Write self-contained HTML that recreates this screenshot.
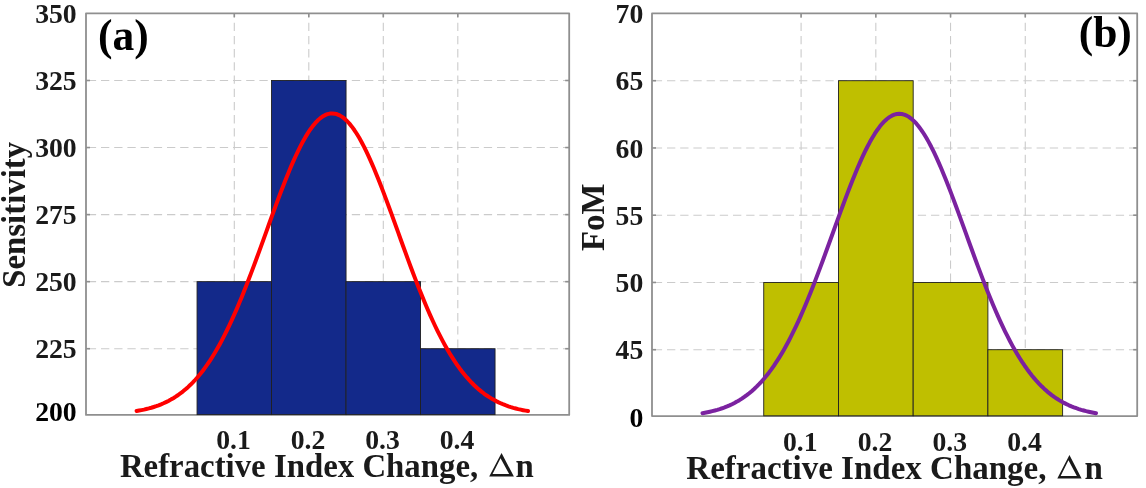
<!DOCTYPE html>
<html><head><meta charset="utf-8"><style>
html,body{margin:0;padding:0;background:#fff;}
svg{display:block;will-change:transform;}
text{font-family:"Liberation Serif",serif;font-weight:bold;fill:#1a1a1a;}
.k{fill:#000;}
.t{font-size:27.7px;}
.l{font-size:32.85px;}
.p{font-size:43.5px;fill:#000;}
</style></head><body>
<svg width="1146" height="488" viewBox="0 0 1146 488">
<rect width="1146" height="488" fill="#fff"/>
<line x1="234.30" y1="13.30" x2="234.30" y2="414.90" stroke="#cbcbcb" stroke-width="1.1" stroke-dasharray="8.3 4.9" stroke-dashoffset="-9.4"/>
<line x1="308.80" y1="13.30" x2="308.80" y2="414.90" stroke="#cbcbcb" stroke-width="1.1" stroke-dasharray="8.3 4.9" stroke-dashoffset="-9.4"/>
<line x1="383.30" y1="13.30" x2="383.30" y2="414.90" stroke="#cbcbcb" stroke-width="1.1" stroke-dasharray="8.3 4.9" stroke-dashoffset="-9.4"/>
<line x1="457.80" y1="13.30" x2="457.80" y2="414.90" stroke="#cbcbcb" stroke-width="1.1" stroke-dasharray="8.3 4.9" stroke-dashoffset="-9.4"/>
<line x1="86.00" y1="348.70" x2="569.20" y2="348.70" stroke="#cbcbcb" stroke-width="1.1" stroke-dasharray="8.3 4.9" stroke-dashoffset="-1.8"/>
<line x1="86.00" y1="281.65" x2="569.20" y2="281.65" stroke="#cbcbcb" stroke-width="1.1" stroke-dasharray="8.3 4.9" stroke-dashoffset="-1.8"/>
<line x1="86.00" y1="214.60" x2="569.20" y2="214.60" stroke="#cbcbcb" stroke-width="1.1" stroke-dasharray="8.3 4.9" stroke-dashoffset="-1.8"/>
<line x1="86.00" y1="147.55" x2="569.20" y2="147.55" stroke="#cbcbcb" stroke-width="1.1" stroke-dasharray="8.3 4.9" stroke-dashoffset="-1.8"/>
<line x1="86.00" y1="80.50" x2="569.20" y2="80.50" stroke="#cbcbcb" stroke-width="1.1" stroke-dasharray="8.3 4.9" stroke-dashoffset="-1.8"/>
<line x1="234.30" y1="414.90" x2="234.30" y2="410.90" stroke="#8f8f8f" stroke-width="1.6"/>
<line x1="234.30" y1="13.30" x2="234.30" y2="17.30" stroke="#8f8f8f" stroke-width="1.6"/>
<line x1="308.80" y1="414.90" x2="308.80" y2="410.90" stroke="#8f8f8f" stroke-width="1.6"/>
<line x1="308.80" y1="13.30" x2="308.80" y2="17.30" stroke="#8f8f8f" stroke-width="1.6"/>
<line x1="383.30" y1="414.90" x2="383.30" y2="410.90" stroke="#8f8f8f" stroke-width="1.6"/>
<line x1="383.30" y1="13.30" x2="383.30" y2="17.30" stroke="#8f8f8f" stroke-width="1.6"/>
<line x1="457.80" y1="414.90" x2="457.80" y2="410.90" stroke="#8f8f8f" stroke-width="1.6"/>
<line x1="457.80" y1="13.30" x2="457.80" y2="17.30" stroke="#8f8f8f" stroke-width="1.6"/>
<line x1="86.00" y1="348.70" x2="90.00" y2="348.70" stroke="#8f8f8f" stroke-width="1.6"/>
<line x1="569.20" y1="348.70" x2="565.20" y2="348.70" stroke="#8f8f8f" stroke-width="1.6"/>
<line x1="86.00" y1="281.65" x2="90.00" y2="281.65" stroke="#8f8f8f" stroke-width="1.6"/>
<line x1="569.20" y1="281.65" x2="565.20" y2="281.65" stroke="#8f8f8f" stroke-width="1.6"/>
<line x1="86.00" y1="214.60" x2="90.00" y2="214.60" stroke="#8f8f8f" stroke-width="1.6"/>
<line x1="569.20" y1="214.60" x2="565.20" y2="214.60" stroke="#8f8f8f" stroke-width="1.6"/>
<line x1="86.00" y1="147.55" x2="90.00" y2="147.55" stroke="#8f8f8f" stroke-width="1.6"/>
<line x1="569.20" y1="147.55" x2="565.20" y2="147.55" stroke="#8f8f8f" stroke-width="1.6"/>
<line x1="86.00" y1="80.50" x2="90.00" y2="80.50" stroke="#8f8f8f" stroke-width="1.6"/>
<line x1="569.20" y1="80.50" x2="565.20" y2="80.50" stroke="#8f8f8f" stroke-width="1.6"/>
<rect x="86.00" y="13.30" width="483.20" height="401.60" fill="none" stroke="#8f8f8f" stroke-width="1.8" stroke-linejoin="round"/>
<rect x="197.05" y="281.65" width="74.50" height="132.95" fill="#13298a" stroke="#202020" stroke-width="0.9"/>
<rect x="271.55" y="80.50" width="74.50" height="334.10" fill="#13298a" stroke="#202020" stroke-width="0.9"/>
<rect x="346.05" y="281.65" width="74.50" height="132.95" fill="#13298a" stroke="#202020" stroke-width="0.9"/>
<rect x="420.55" y="348.70" width="74.50" height="65.90" fill="#13298a" stroke="#202020" stroke-width="0.9"/>
<polyline points="136.60,411.00 139.05,410.57 141.49,410.10 143.94,409.59 146.38,409.02 148.83,408.40 151.28,407.72 153.72,406.97 156.17,406.16 158.62,405.28 161.06,404.32 163.51,403.28 165.95,402.15 168.40,400.92 170.85,399.60 173.29,398.18 175.74,396.65 178.19,395.00 180.63,393.23 183.08,391.33 185.52,389.30 187.97,387.14 190.42,384.83 192.86,382.37 195.31,379.75 197.76,376.98 200.20,374.04 202.65,370.94 205.09,367.66 207.54,364.21 209.99,360.57 212.43,356.76 214.88,352.76 217.33,348.58 219.77,344.21 222.22,339.66 224.66,334.92 227.11,330.01 229.56,324.91 232.00,319.64 234.45,314.19 236.90,308.58 239.34,302.81 241.79,296.89 244.23,290.83 246.68,284.63 249.13,278.31 251.57,271.89 254.02,265.36 256.47,258.76 258.91,252.08 261.36,245.35 263.81,238.59 266.25,231.81 268.70,225.03 271.14,218.27 273.59,211.55 276.04,204.88 278.48,198.30 280.93,191.82 283.38,185.46 285.82,179.24 288.27,173.19 290.71,167.33 293.16,161.66 295.61,156.23 298.05,151.05 300.50,146.12 302.94,141.49 305.39,137.16 307.84,133.14 310.28,129.47 312.73,126.14 315.18,123.17 317.62,120.58 320.07,118.38 322.51,116.57 324.96,115.16 327.41,114.16 329.85,113.57 332.30,113.40 334.75,113.64 337.19,114.30 339.64,115.37 342.08,116.84 344.53,118.71 346.98,120.98 349.42,123.63 351.87,126.66 354.32,130.04 356.76,133.78 359.21,137.84 361.65,142.23 364.10,146.91 366.55,151.88 368.99,157.10 371.44,162.58 373.89,168.27 376.33,174.17 378.78,180.25 381.23,186.49 383.67,192.87 386.12,199.37 388.56,205.97 391.01,212.64 393.46,219.37 395.90,226.14 398.35,232.92 400.79,239.70 403.24,246.46 405.69,253.18 408.13,259.84 410.58,266.44 413.03,272.95 415.47,279.36 417.92,285.65 420.37,291.83 422.81,297.87 425.26,303.76 427.70,309.51 430.15,315.09 432.60,320.51 435.04,325.75 437.49,330.82 439.93,335.71 442.38,340.42 444.83,344.94 447.27,349.28 449.72,353.43 452.17,357.40 454.61,361.18 457.06,364.78 459.50,368.21 461.95,371.46 464.40,374.54 466.84,377.45 469.29,380.19 471.74,382.78 474.18,385.22 476.63,387.50 479.08,389.65 481.52,391.65 483.97,393.53 486.41,395.28 488.86,396.91 491.31,398.42 493.75,399.83 496.20,401.13 498.64,402.34 501.09,403.45 503.54,404.48 505.98,405.43 508.43,406.30 510.88,407.10 513.32,407.83 515.77,408.50 518.21,409.12 520.66,409.67 523.11,410.18 525.55,410.65 528.00,411.07" fill="none" stroke="#ff0000" stroke-width="4.0" stroke-linejoin="round" stroke-linecap="round"/>
<text x="76.70" y="421.20" text-anchor="end" class="t k">200</text>
<text x="76.70" y="358.30" text-anchor="end" class="t">225</text>
<text x="76.70" y="291.25" text-anchor="end" class="t">250</text>
<text x="76.70" y="224.20" text-anchor="end" class="t">275</text>
<text x="76.70" y="157.15" text-anchor="end" class="t">300</text>
<text x="76.70" y="90.10" text-anchor="end" class="t">325</text>
<text x="76.70" y="23.05" text-anchor="end" class="t">350</text>
<text x="233.50" y="449.40" text-anchor="middle" class="t">0.1</text>
<text x="308.00" y="449.40" text-anchor="middle" class="t">0.2</text>
<text x="382.50" y="449.40" text-anchor="middle" class="t">0.3</text>
<text x="457.00" y="449.40" text-anchor="middle" class="t">0.4</text>
<line x1="801.10" y1="13.40" x2="801.10" y2="416.10" stroke="#cbcbcb" stroke-width="1.1" stroke-dasharray="8.3 4.9" stroke-dashoffset="-9.4"/>
<line x1="875.82" y1="13.40" x2="875.82" y2="416.10" stroke="#cbcbcb" stroke-width="1.1" stroke-dasharray="8.3 4.9" stroke-dashoffset="-9.4"/>
<line x1="950.54" y1="13.40" x2="950.54" y2="416.10" stroke="#cbcbcb" stroke-width="1.1" stroke-dasharray="8.3 4.9" stroke-dashoffset="-9.4"/>
<line x1="1025.26" y1="13.40" x2="1025.26" y2="416.10" stroke="#cbcbcb" stroke-width="1.1" stroke-dasharray="8.3 4.9" stroke-dashoffset="-9.4"/>
<line x1="652.00" y1="349.70" x2="1137.20" y2="349.70" stroke="#cbcbcb" stroke-width="1.1" stroke-dasharray="8.3 4.9" stroke-dashoffset="-1.8"/>
<line x1="652.00" y1="282.45" x2="1137.20" y2="282.45" stroke="#cbcbcb" stroke-width="1.1" stroke-dasharray="8.3 4.9" stroke-dashoffset="-1.8"/>
<line x1="652.00" y1="215.20" x2="1137.20" y2="215.20" stroke="#cbcbcb" stroke-width="1.1" stroke-dasharray="8.3 4.9" stroke-dashoffset="-1.8"/>
<line x1="652.00" y1="147.95" x2="1137.20" y2="147.95" stroke="#cbcbcb" stroke-width="1.1" stroke-dasharray="8.3 4.9" stroke-dashoffset="-1.8"/>
<line x1="652.00" y1="80.70" x2="1137.20" y2="80.70" stroke="#cbcbcb" stroke-width="1.1" stroke-dasharray="8.3 4.9" stroke-dashoffset="-1.8"/>
<line x1="801.10" y1="416.10" x2="801.10" y2="412.10" stroke="#8f8f8f" stroke-width="1.6"/>
<line x1="801.10" y1="13.40" x2="801.10" y2="17.40" stroke="#8f8f8f" stroke-width="1.6"/>
<line x1="875.82" y1="416.10" x2="875.82" y2="412.10" stroke="#8f8f8f" stroke-width="1.6"/>
<line x1="875.82" y1="13.40" x2="875.82" y2="17.40" stroke="#8f8f8f" stroke-width="1.6"/>
<line x1="950.54" y1="416.10" x2="950.54" y2="412.10" stroke="#8f8f8f" stroke-width="1.6"/>
<line x1="950.54" y1="13.40" x2="950.54" y2="17.40" stroke="#8f8f8f" stroke-width="1.6"/>
<line x1="1025.26" y1="416.10" x2="1025.26" y2="412.10" stroke="#8f8f8f" stroke-width="1.6"/>
<line x1="1025.26" y1="13.40" x2="1025.26" y2="17.40" stroke="#8f8f8f" stroke-width="1.6"/>
<line x1="652.00" y1="349.70" x2="656.00" y2="349.70" stroke="#8f8f8f" stroke-width="1.6"/>
<line x1="1137.20" y1="349.70" x2="1133.20" y2="349.70" stroke="#8f8f8f" stroke-width="1.6"/>
<line x1="652.00" y1="282.45" x2="656.00" y2="282.45" stroke="#8f8f8f" stroke-width="1.6"/>
<line x1="1137.20" y1="282.45" x2="1133.20" y2="282.45" stroke="#8f8f8f" stroke-width="1.6"/>
<line x1="652.00" y1="215.20" x2="656.00" y2="215.20" stroke="#8f8f8f" stroke-width="1.6"/>
<line x1="1137.20" y1="215.20" x2="1133.20" y2="215.20" stroke="#8f8f8f" stroke-width="1.6"/>
<line x1="652.00" y1="147.95" x2="656.00" y2="147.95" stroke="#8f8f8f" stroke-width="1.6"/>
<line x1="1137.20" y1="147.95" x2="1133.20" y2="147.95" stroke="#8f8f8f" stroke-width="1.6"/>
<line x1="652.00" y1="80.70" x2="656.00" y2="80.70" stroke="#8f8f8f" stroke-width="1.6"/>
<line x1="1137.20" y1="80.70" x2="1133.20" y2="80.70" stroke="#8f8f8f" stroke-width="1.6"/>
<rect x="652.00" y="13.40" width="485.20" height="402.70" fill="none" stroke="#8f8f8f" stroke-width="1.8" stroke-linejoin="round"/>
<rect x="763.74" y="282.45" width="74.72" height="133.35" fill="#bfbf00" stroke="#202020" stroke-width="0.9"/>
<rect x="838.46" y="80.70" width="74.72" height="335.10" fill="#bfbf00" stroke="#202020" stroke-width="0.9"/>
<rect x="913.18" y="282.45" width="74.72" height="133.35" fill="#bfbf00" stroke="#202020" stroke-width="0.9"/>
<rect x="987.90" y="349.70" width="74.72" height="66.10" fill="#bfbf00" stroke="#202020" stroke-width="0.9"/>
<polyline points="702.50,413.20 704.96,412.76 707.42,412.28 709.88,411.75 712.34,411.17 714.80,410.54 717.26,409.85 719.72,409.09 722.17,408.27 724.63,407.37 727.09,406.39 729.55,405.34 732.01,404.19 734.47,402.95 736.93,401.61 739.39,400.17 741.85,398.62 744.31,396.95 746.77,395.16 749.23,393.24 751.69,391.19 754.15,389.00 756.61,386.67 759.07,384.18 761.52,381.55 763.98,378.75 766.44,375.79 768.90,372.66 771.36,369.36 773.82,365.88 776.28,362.22 778.74,358.38 781.20,354.36 783.66,350.15 786.12,345.76 788.58,341.19 791.04,336.43 793.50,331.48 795.96,326.36 798.42,321.07 800.88,315.60 803.33,309.97 805.79,304.18 808.25,298.24 810.71,292.15 813.17,285.94 815.63,279.60 818.09,273.16 820.55,266.61 823.01,259.99 825.47,253.29 827.93,246.55 830.39,239.77 832.85,232.97 835.31,226.17 837.77,219.39 840.23,212.65 842.68,205.97 845.14,199.37 847.60,192.87 850.06,186.49 852.52,180.25 854.98,174.18 857.44,168.29 859.90,162.61 862.36,157.15 864.82,151.94 867.28,146.99 869.74,142.33 872.20,137.96 874.66,133.92 877.12,130.21 879.58,126.85 882.03,123.85 884.49,121.22 886.95,118.98 889.41,117.13 891.87,115.69 894.33,114.65 896.79,114.02 899.25,113.80 901.71,114.00 904.17,114.61 906.63,115.64 909.09,117.07 911.55,118.90 914.01,121.12 916.47,123.73 918.92,126.72 921.38,130.07 923.84,133.76 926.30,137.79 928.76,142.14 931.22,146.80 933.68,151.73 936.14,156.93 938.60,162.38 941.06,168.06 943.52,173.94 945.98,180.00 948.44,186.24 950.90,192.61 953.36,199.11 955.82,205.70 958.27,212.38 960.73,219.12 963.19,225.90 965.65,232.69 968.11,239.49 970.57,246.27 973.03,253.02 975.49,259.72 977.95,266.34 980.41,272.89 982.87,279.34 985.33,285.68 987.79,291.90 990.25,297.99 992.71,303.94 995.17,309.73 997.62,315.37 1000.08,320.85 1002.54,326.15 1005.00,331.28 1007.46,336.23 1009.92,341.00 1012.38,345.58 1014.84,349.98 1017.30,354.19 1019.76,358.22 1022.22,362.07 1024.68,365.73 1027.14,369.22 1029.60,372.53 1032.06,375.66 1034.52,378.63 1036.97,381.44 1039.43,384.08 1041.89,386.57 1044.35,388.91 1046.81,391.10 1049.27,393.16 1051.73,395.08 1054.19,396.88 1056.65,398.55 1059.11,400.11 1061.57,401.56 1064.03,402.90 1066.49,404.14 1068.95,405.29 1071.41,406.35 1073.87,407.33 1076.33,408.23 1078.78,409.06 1081.24,409.82 1083.70,410.51 1086.16,411.15 1088.62,411.73 1091.08,412.26 1093.54,412.74 1096.00,413.18" fill="none" stroke="#7b22a0" stroke-width="4.0" stroke-linejoin="round" stroke-linecap="round"/>
<text x="643.30" y="426.70" text-anchor="end" class="t k">0</text>
<text x="643.30" y="359.30" text-anchor="end" class="t">45</text>
<text x="643.30" y="292.05" text-anchor="end" class="t">50</text>
<text x="643.30" y="224.80" text-anchor="end" class="t">55</text>
<text x="643.30" y="157.55" text-anchor="end" class="t">60</text>
<text x="643.30" y="90.30" text-anchor="end" class="t">65</text>
<text x="643.30" y="23.05" text-anchor="end" class="t">70</text>
<text x="800.30" y="451.20" text-anchor="middle" class="t">0.1</text>
<text x="875.02" y="451.20" text-anchor="middle" class="t">0.2</text>
<text x="949.74" y="451.20" text-anchor="middle" class="t">0.3</text>
<text x="1024.46" y="451.20" text-anchor="middle" class="t">0.4</text>
<text x="119.90" y="476.70" style="font-size:32.85px">Refractive Index Change,</text><path fill-rule="evenodd" fill="#1a1a1a" d="M489.20,476.60 L513.90,476.60 L501.55,453.00 Z M492.56,474.00 L500.55,458.16 L509.14,474.00 Z"/><text x="515.60" y="476.70" style="font-size:32.85px">n</text>
<text x="686.30" y="478.60" style="font-size:33.0px">Refractive Index Change,</text><path fill-rule="evenodd" fill="#1a1a1a" d="M1057.30,478.50 L1081.60,478.50 L1069.45,455.00 Z M1060.64,475.90 L1068.45,460.22 L1076.86,475.90 Z"/><text x="1084.45" y="478.60" style="font-size:33.0px">n</text>
<text transform="translate(25.4,214.80) rotate(-90)" text-anchor="middle" class="l">Sensitivity</text>
<text transform="translate(603.6,217.35) rotate(-90)" text-anchor="middle" class="l">FoM</text>
<text x="98" y="49.6" class="p">(a)</text>
<text x="1078.7" y="47.3" class="p">(b)</text>
</svg></body></html>
